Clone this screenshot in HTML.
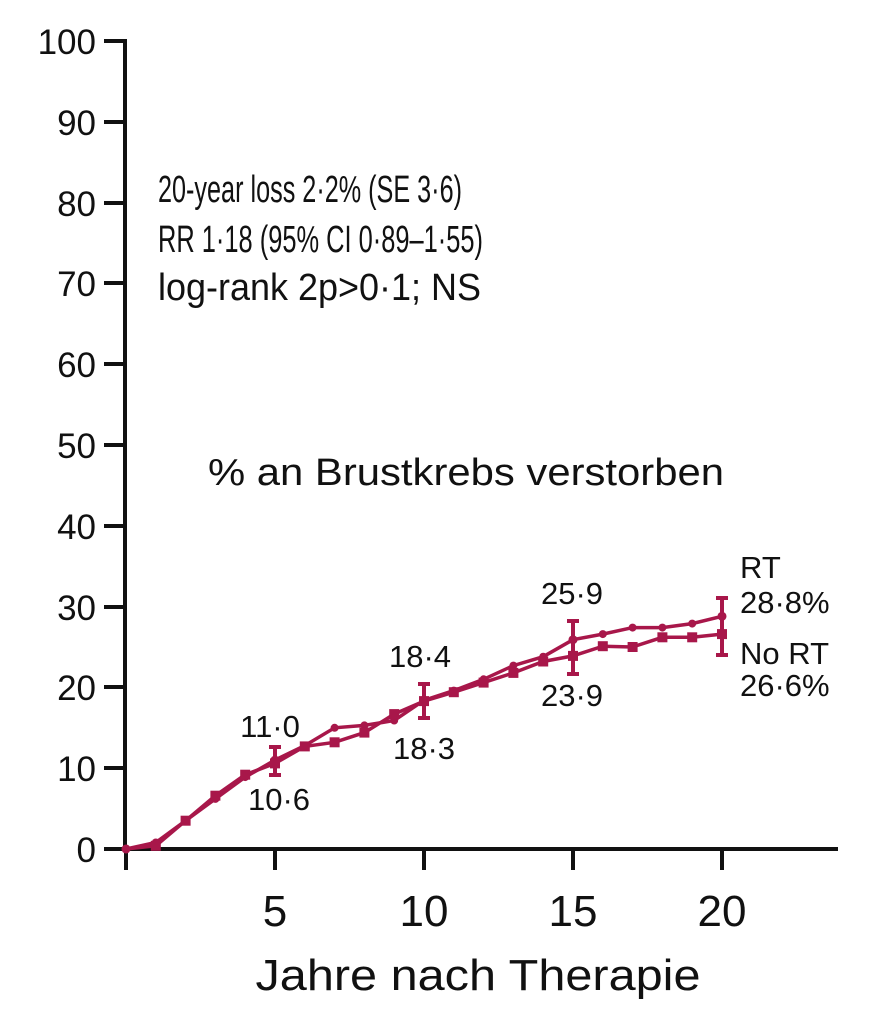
<!DOCTYPE html>
<html><head><meta charset="utf-8"><style>body{margin:0;background:#fff}svg{display:block}</style></head>
<body>
<svg width="869" height="1015" xmlns="http://www.w3.org/2000/svg" font-family="Liberation Sans, DejaVu Sans, sans-serif">
<rect width="869" height="1015" fill="#fff"/>
<g stroke="#111" stroke-width="4" fill="none">
<line x1="125" y1="39" x2="125" y2="851"/>
<line x1="123" y1="849" x2="838" y2="849"/>
<line x1="104" y1="41" x2="125" y2="41"/>
<line x1="104" y1="122" x2="125" y2="122"/>
<line x1="104" y1="203" x2="125" y2="203"/>
<line x1="104" y1="283" x2="125" y2="283"/>
<line x1="104" y1="364" x2="125" y2="364"/>
<line x1="104" y1="445" x2="125" y2="445"/>
<line x1="104" y1="526" x2="125" y2="526"/>
<line x1="104" y1="607" x2="125" y2="607"/>
<line x1="104" y1="687" x2="125" y2="687"/>
<line x1="104" y1="768" x2="125" y2="768"/>
<line x1="104" y1="849" x2="125" y2="849"/>
<line x1="126" y1="849" x2="126" y2="870"/>
<line x1="275" y1="849" x2="275" y2="870"/>
<line x1="424" y1="849" x2="424" y2="870"/>
<line x1="573" y1="849" x2="573" y2="870"/>
<line x1="722" y1="849" x2="722" y2="870"/>
</g>
<g font-size="35" fill="#111" text-anchor="end">
<text x="96" y="54">100</text><text x="96" y="135">90</text><text x="96" y="216">80</text>
<text x="96" y="296">70</text><text x="96" y="377">60</text><text x="96" y="458">50</text>
<text x="96" y="539">40</text><text x="96" y="620">30</text><text x="96" y="700">20</text>
<text x="96" y="781">10</text><text x="96" y="862">0</text>
</g>
<g font-size="38" fill="#111">
<text x="158" y="202" textLength="304" lengthAdjust="spacingAndGlyphs">20-year loss 2·2% (SE 3·6)</text>
<text x="158" y="252" textLength="325" lengthAdjust="spacingAndGlyphs">RR 1·18 (95% CI 0·89–1·55)</text>
<text x="158" y="300" textLength="323" lengthAdjust="spacingAndGlyphs">log-rank 2p&gt;0·1; NS</text>
</g>
<text x="208" y="485" font-size="38" fill="#111" textLength="516" lengthAdjust="spacingAndGlyphs">% an Brustkrebs verstorben</text>
<g font-size="44" fill="#111" text-anchor="middle">
<text x="275" y="926">5</text><text x="424" y="926">10</text><text x="573" y="926">15</text><text x="722" y="926">20</text>
</g>
<text x="478" y="990" font-size="44" fill="#111" text-anchor="middle" textLength="445" lengthAdjust="spacingAndGlyphs">Jahre nach Therapie</text>
<g stroke="#a8174a" stroke-width="3.5" fill="none">
<polyline points="126,849 155.8,842.5 185.6,820.7 215.4,798.9 245.2,777.1 275,760.1 304.8,745.6 334.6,727.8 364.4,725.4 394.2,720.5 424,700.3 453.8,690.6 483.6,679.3 513.4,665.6 543.2,656.7 573,639.7 602.8,634.1 632.6,627.6 662.4,627.6 692.2,623.6 722,616.3"/>
<polyline points="126,849 155.8,845.8 185.6,820.7 215.4,795.7 245.2,774.7 275,763.4 304.8,746.4 334.6,742.3 364.4,732.6 394.2,714.1 424,701.1 453.8,692.2 483.6,682.6 513.4,672.9 543.2,661.5 573,655.9 602.8,646.2 632.6,647 662.4,637.3 692.2,637.3 722,634.1"/>
<path d="M275 747V775M269 747H281M269 775H281M424 684V718M418 684H430M418 718H430M573 621V674M567 621H579M567 674H579M722 598V655M716 598H728M716 655H728" stroke-width="4"/>
</g>
<g fill="#a8174a">
<circle cx="155.8" cy="842.5" r="4"/><circle cx="185.6" cy="820.7" r="4"/><circle cx="215.4" cy="798.9" r="4"/><circle cx="245.2" cy="777.1" r="4"/><circle cx="275" cy="760.1" r="4.5"/><circle cx="304.8" cy="745.6" r="4"/><circle cx="334.6" cy="727.8" r="4"/><circle cx="364.4" cy="725.4" r="4"/><circle cx="394.2" cy="720.5" r="4"/><circle cx="424" cy="700.3" r="4.5"/><circle cx="453.8" cy="690.6" r="4"/><circle cx="483.6" cy="679.3" r="4"/><circle cx="513.4" cy="665.6" r="4"/><circle cx="543.2" cy="656.7" r="4"/><circle cx="573" cy="639.7" r="4.5"/><circle cx="602.8" cy="634.1" r="4"/><circle cx="632.6" cy="627.6" r="4"/><circle cx="662.4" cy="627.6" r="4"/><circle cx="692.2" cy="623.6" r="4"/><circle cx="722" cy="616.3" r="4.5"/>
<g transform="translate(-5,-5)">
<rect x="155.8" y="845.8" width="10" height="10"/><rect x="185.6" y="820.7" width="10" height="10"/><rect x="215.4" y="795.7" width="10" height="10"/><rect x="245.2" y="774.7" width="10" height="10"/><rect x="275" y="763.4" width="10" height="10"/><rect x="304.8" y="746.4" width="10" height="10"/><rect x="334.6" y="742.3" width="10" height="10"/><rect x="364.4" y="732.6" width="10" height="10"/><rect x="394.2" y="714.1" width="10" height="10"/><rect x="424" y="701.1" width="10" height="10"/><rect x="453.8" y="692.2" width="10" height="10"/><rect x="483.6" y="682.6" width="10" height="10"/><rect x="513.4" y="672.9" width="10" height="10"/><rect x="543.2" y="661.5" width="10" height="10"/><rect x="573" y="655.9" width="10" height="10"/><rect x="602.8" y="646.2" width="10" height="10"/><rect x="632.6" y="647" width="10" height="10"/><rect x="662.4" y="637.3" width="10" height="10"/><rect x="692.2" y="637.3" width="10" height="10"/><rect x="722" y="634.1" width="10" height="10"/>
</g>
<circle cx="126" cy="849" r="4.5"/>
</g>
<g font-size="31" fill="#111">
<g text-anchor="middle">
<text x="270" y="737">11·0</text><text x="279" y="810">10·6</text>
<text x="420" y="667">18·4</text><text x="424" y="759">18·3</text>
<text x="572" y="604">25·9</text><text x="572" y="706">23·9</text>
</g>
<text x="740" y="578">RT</text><text x="740" y="613">28·8%</text>
<text x="740" y="664">No RT</text><text x="740" y="696">26·6%</text>
</g>
</svg>
</body></html>
